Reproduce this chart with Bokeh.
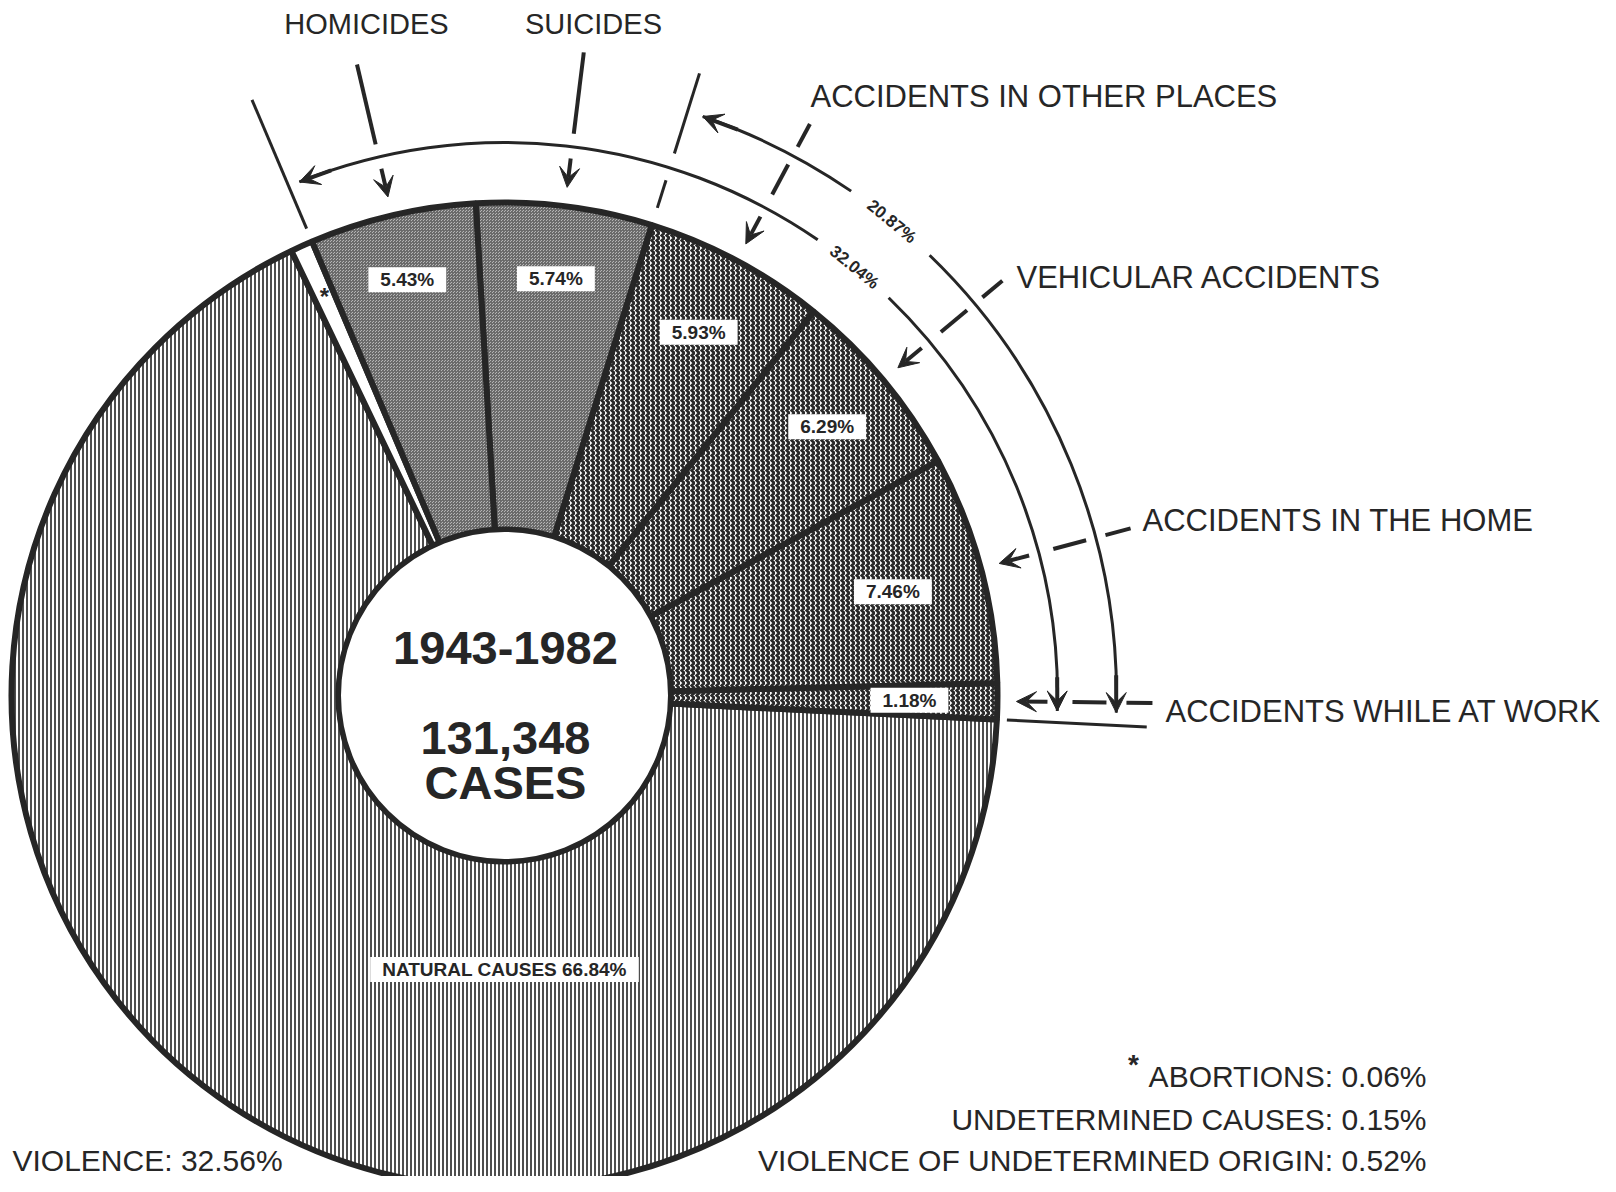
import math
from bokeh.plotting import figure
from bokeh.models import Range1d, Arrow, VeeHead, ColumnDataSource
from bokeh.core.properties import value
from bokeh.embed import file_html
from bokeh.resources import INLINE

# ---------------- data ----------------
slice_names = ["ACCIDENTS WHILE AT WORK", "ACCIDENTS IN THE HOME", "VEHICULAR ACCIDENTS",
               "ACCIDENTS IN OTHER PLACES", "SUICIDES", "HOMICIDES"]
slice_values = [1.18, 7.46, 6.29, 5.93, 5.74, 5.43]
footnote_names = ["ABORTIONS", "UNDETERMINED CAUSES", "VIOLENCE OF UNDETERMINED ORIGIN"]
footnote_values = [0.06, 0.15, 0.52]
natural_name = "NATURAL CAUSES"
natural_value = 66.84
accidents_total = 20.87
violent_known_total = 32.04
violence_total = 32.56
period = "1943-1982"
cases = 131348

# ---------------- layout ----------------
INK = "#262626"
FONT = value("Liberation Sans")
def Y(ys):  # screen y -> data y
    return 1192 - ys

CX, CY = 504, Y(695)
R_OUT, R_IN = 493, 166
START_DEG = -2.8

values_all = slice_values + [sum(footnote_values), natural_value]
deg_per = 360.0 / sum(values_all)
bounds = [START_DEG]
for v in values_all:
    bounds.append(bounds[-1] + v * deg_per)
mids = [(bounds[i] + bounds[i + 1]) / 2 for i in range(len(values_all))]

def pt(r, d):
    a = math.radians(d)
    return CX + r * math.cos(a), CY + r * math.sin(a)

p = figure(width=1600, height=1176, x_range=Range1d(0, 1600), y_range=Range1d(16, 1192),
           output_backend="svg", toolbar_location=None, min_border=0,
           x_axis_location=None, y_axis_location=None)
p.grid.visible = False
p.outline_line_color = None
p.background_fill_color = "white"
p.border_fill_color = "white"

def wedge_group(idx, **style):
    src = ColumnDataSource(dict(
        s=[math.radians(bounds[i]) for i in idx],
        e=[math.radians(bounds[i + 1]) for i in idx]))
    p.annular_wedge(x=CX, y=CY, inner_radius=R_IN, outer_radius=R_OUT,
                    start_angle="s", end_angle="e", source=src,
                    line_color=INK, line_width=6, **style)

# natural causes: vertical line screen
wedge_group([7], fill_color="white", hatch_pattern="vertical_line", hatch_color="#3a3a3a",
            hatch_scale=4, hatch_weight=1.8)
# white (abortions etc.)
wedge_group([6], fill_color="white")
# homicides, suicides: fine stipple
wedge_group([4, 5], fill_color="#b4b4b4", hatch_pattern="criss_cross", hatch_color="#6a6a6a",
            hatch_scale=3, hatch_weight=1)
# accidents: mesh
wedge_group([0, 1, 2, 3], fill_color="white", hatch_pattern="vertical_wave", hatch_color="#2a2a2a",
            hatch_scale=5, hatch_weight=2.8)

# inner circle
p.circle(x=[CX], y=[CY], radius=R_IN, fill_color="white", line_color=INK, line_width=5)

# percentage labels in slices
label_r = [405, 402, 420, 412, 420, 427]
lx, ly = [], []
for i in range(6):
    x, y = pt(label_r[i], mids[i])
    lx.append(x); ly.append(y)
box = dict(background_fill_color="white", padding=dict(left=12, right=12, top=2, bottom=2))
p.text(x=lx, y=ly, text=[f"{v:.2f}%" for v in slice_values], text_font=FONT,
       text_font_style="bold", text_font_size="19px", text_color=INK,
       text_align="center", text_baseline="middle", **box)

nx, ny = pt(274, -90)
p.text(x=[nx], y=[ny], text=[f"{natural_name} {natural_value:.2f}%"], text_font=FONT,
       text_font_style="bold", text_font_size="19px", text_color=INK,
       text_align="center", text_baseline="middle", **box)

sx_, sy_ = pt(438, mids[6])
p.text(x=[sx_], y=[sy_], text=["*"], text_font=FONT, text_font_style="bold",
       text_font_size="24px", text_color=INK, text_align="center", text_baseline="middle")

# centre text
p.text(x=[505, 505, 505], y=[Y(647), Y(737), Y(782)],
       text=[period, f"{cases:,}", "CASES"], text_font=FONT, text_font_style="bold",
       text_font_size="47px", text_color=INK, text_align="center", text_baseline="middle")

# ---------------- leaders ----------------
head = lambda: VeeHead(size=20, fill_color=INK, line_color=INK, line_width=1)
seg = dict(x0=[], y0=[], x1=[], y1=[])
def add_seg(r0, r1, d):
    a = pt(r0, d); b = pt(r1, d)
    seg["x0"].append(a[0]); seg["y0"].append(a[1]); seg["x1"].append(b[0]); seg["y1"].append(b[1])

arr = dict(xs=[], ys=[], xe=[], ye=[])
def add_arrow(a, b):
    arr["xs"].append(a[0]); arr["ys"].append(a[1]); arr["xe"].append(b[0]); arr["ye"].append(b[1])

for i in range(4):
    add_seg(648, 622, mids[i]); add_seg(602, 568, mids[i])
    add_arrow(pt(543, mids[i]), pt(512, mids[i]))
for i in (4, 5):
    add_seg(648, 566, mids[i])
    add_arrow(pt(541, mids[i]), pt(512, mids[i]))
p.segment(x0="x0", y0="y0", x1="x1", y1="y1", source=ColumnDataSource(seg),
          line_color=INK, line_width=4)

# separators (solid, radial)
sep = dict(x0=[], y0=[], x1=[], y1=[])
def add_sep(r0, r1, d):
    a = pt(r0, d); b = pt(r1, d)
    sep["x0"].append(a[0]); sep["y0"].append(a[1]); sep["x1"].append(b[0]); sep["y1"].append(b[1])
add_sep(503, 643, bounds[0])
add_sep(507, 647, bounds[6])
add_sep(511, 540, bounds[4]); add_sep(568, 652, bounds[4])
p.segment(x0="x0", y0="y0", x1="x1", y1="y1", source=ColumnDataSource(sep),
          line_color=INK, line_width=3)

# bracket arcs
GAP_LO, GAP_HI = 46.0, 55.5
R_A, R_B = 553, 612
arcs = dict(r=[], s=[], e=[])
for r, top in ((R_A, bounds[6] - 1.2), (R_B, bounds[4] - 1.5)):
    bot = bounds[0] + 1.2
    arcs["r"] += [r, r]
    arcs["s"] += [math.radians(bot), math.radians(GAP_HI)]
    arcs["e"] += [math.radians(GAP_LO), math.radians(top)]
    add_arrow(pt(r, bot + 3.5), pt(r, bot))
    add_arrow(pt(r, top - 3.5), pt(r, top))
p.arc(x=CX, y=CY, radius="r", start_angle="s", end_angle="e", source=ColumnDataSource(arcs),
      line_color=INK, line_width=3)

p.add_layout(Arrow(end=head(), x_start="xs", y_start="ys", x_end="xe", y_end="ye",
                   source=ColumnDataSource(arr), line_color=INK, line_width=4))

lab_ang = (GAP_LO + GAP_HI) / 2
for r, v in ((R_A, violent_known_total), (R_B, accidents_total)):
    x, y = pt(r, lab_ang)
    p.text(x=[x], y=[y], text=[f"{v:.2f}%"], angle=math.radians(lab_ang - 90),
           text_font=FONT, text_font_style="bold", text_font_size="17px", text_color=INK,
           text_align="center", text_baseline="middle")

# ---------------- category labels ----------------
p.text(x=[366, 593], y=[Y(23), Y(23)], text=[slice_names[5], slice_names[4]], text_font=FONT,
       text_font_size="29px", text_color=INK, text_align="center", text_baseline="middle")
p.text(x=[810, 1016, 1142, 1165], y=[Y(96), Y(277), Y(520), Y(711)],
       text=[slice_names[3], slice_names[2], slice_names[1], slice_names[0]], text_font=FONT,
       text_font_size="31px", text_color=INK, text_align="left", text_baseline="middle")

# footnotes
p.text(x=[1426, 1426, 1426], y=[Y(1076), Y(1119), Y(1160)],
       text=[f"{n}: {v:.2f}%" for n, v in zip(footnote_names, footnote_values)], text_font=FONT,
       text_font_size="30px", text_color=INK, text_align="right", text_baseline="middle")
p.text(x=[1133], y=[Y(1064)], text=["*"], text_font=FONT, text_font_style="bold",
       text_font_size="28px", text_color=INK, text_align="center", text_baseline="middle")
p.text(x=[12], y=[Y(1160)], text=[f"VIOLENCE: {violence_total:.2f}%"], text_font=FONT,
       text_font_size="30px", text_color=INK, text_align="left", text_baseline="middle")

open("out.html", "w").write(file_html(p, INLINE))
